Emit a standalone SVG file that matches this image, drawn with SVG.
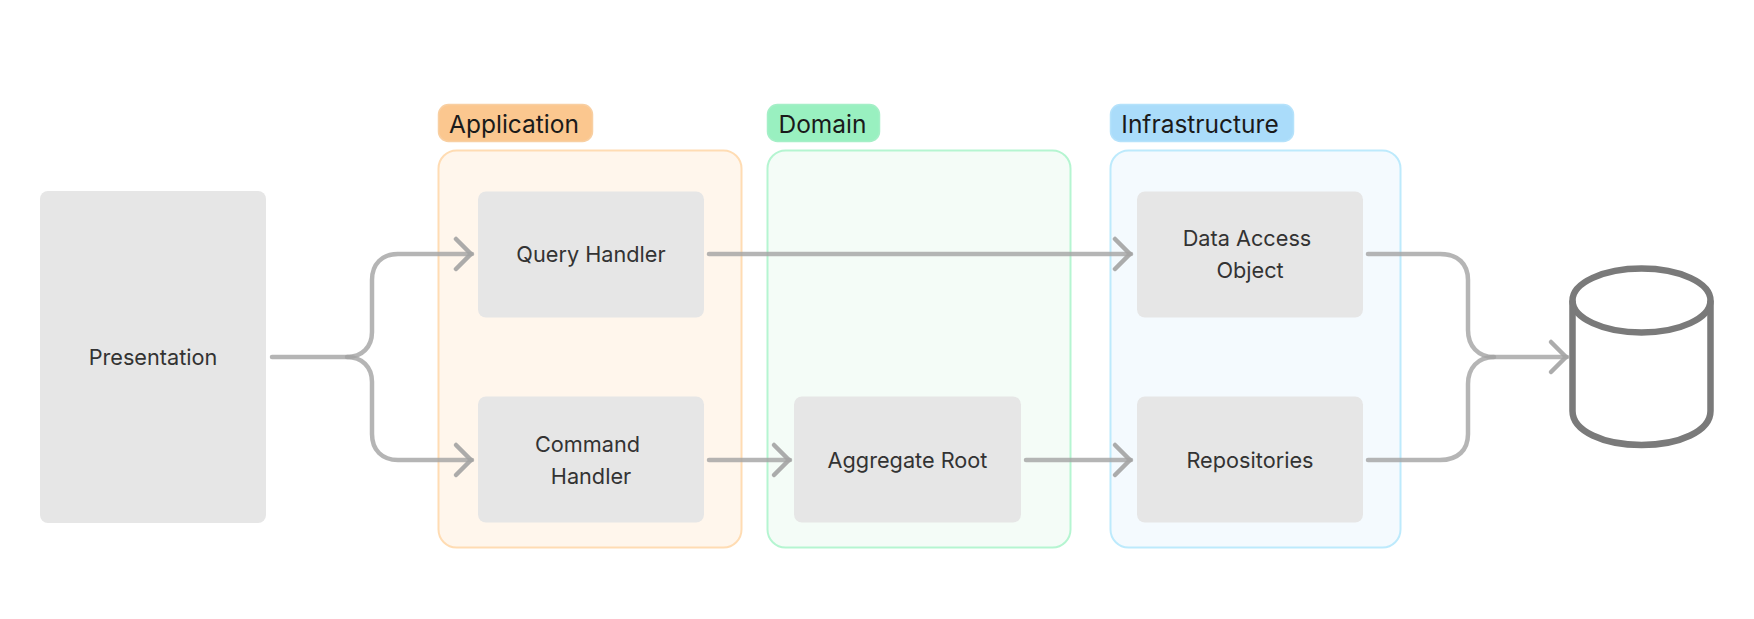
<svg xmlns="http://www.w3.org/2000/svg" width="1754" height="619" viewBox="0 0 1754 619">
<style>
.node{fill:#e6e6e6}
.t{font-family:Inter,"Liberation Sans",sans-serif;font-size:21.700px;fill:#333;text-anchor:middle}
.h{font-family:Inter,"Liberation Sans",sans-serif;font-size:24.500px;fill:#1a1a1a;text-anchor:middle}
.c{fill:none;stroke:#a3a3a3;stroke-opacity:.8;stroke-width:4.500;stroke-linecap:round;stroke-linejoin:round}
</style>
<defs>
<marker id="a" markerUnits="userSpaceOnUse" markerWidth="24" markerHeight="36" refX="19" refY="15" orient="auto" overflow="visible"><path d="M3 0L18 15L3 30" fill="none" stroke="#a3a3a3" stroke-opacity=".9" stroke-width="4.500" stroke-linecap="round" stroke-linejoin="round"/></marker>
</defs>
<rect width="1754" height="619" fill="#fff"/>
<g id="group-application"><rect x="438.500" y="150.500" width="303" height="397" rx="18" fill="#fff6ec" stroke="#ffdcb3" stroke-width="2"/><rect x="438.500" y="104.500" width="154" height="37" rx="10" fill="#fbc78f" stroke="#f8cfa2" stroke-width="1.500"/><text class="h" x="514" y="133">Application</text></g>
<g id="group-domain"><rect x="767.500" y="150.500" width="303" height="397" rx="18" fill="#f4fcf7" stroke="#b5f5d1" stroke-width="2"/><rect x="767.500" y="104.500" width="112" height="37" rx="10" fill="#99f0c0" stroke="#a5efc7" stroke-width="1.500"/><text class="h" x="822.500" y="133">Domain</text></g>
<g id="group-infrastructure"><rect x="1110.500" y="150.500" width="290" height="397" rx="18" fill="#f4fafe" stroke="#bdeafc" stroke-width="2"/><rect x="1110.500" y="104.500" width="183" height="37" rx="10" fill="#aadcfa" stroke="#b5e2fb" stroke-width="1.500"/><text class="h" x="1200" y="133">Infrastructure</text></g>
<g id="presentation"><rect class="node" x="40" y="191" width="226" height="332" rx="8"/><text class="t" x="153" y="365">Presentation</text></g>
<g id="query-handler"><rect class="node" x="478" y="191.500" width="226" height="126" rx="8"/><text class="t" x="591" y="262">Query Handler</text></g>
<g id="command-handler"><rect class="node" x="478" y="396.500" width="226" height="126" rx="8"/><text class="t" x="587.500" y="452">Command</text><text class="t" x="591" y="484">Handler</text></g>
<g id="aggregate-root"><rect class="node" x="794" y="396.500" width="227" height="126" rx="8"/><text class="t" x="907.500" y="468">Aggregate Root</text></g>
<g id="data-access-object"><rect class="node" x="1137" y="191.500" width="226" height="126" rx="8"/><text class="t" x="1247" y="246">Data Access</text><text class="t" x="1250" y="278">Object</text></g>
<g id="repositories"><rect class="node" x="1137" y="396.500" width="226" height="126" rx="8"/><text class="t" x="1250" y="468">Repositories</text></g>
<g id="database" fill="none" stroke="#7a7a7a" stroke-width="6.500"><ellipse cx="1641.500" cy="300.500" rx="69" ry="32"/><path d="M1572.500 300.500V411C1572.500 431 1603.500 445 1641.500 445S1710.500 431 1710.500 411V300.500"/></g>
<g id="connectors">
<path class="c" d="M272 357H347C362 357 372 347 372 332V280C372 264 382 254 398 254H472" marker-end="url(#a)"/>
<path class="c" d="M347 357C362 357 372 367 372 382V434C372 450 382 460 398 460H472" marker-end="url(#a)"/>
<path class="c" d="M709 254H1131" marker-end="url(#a)"/>
<path class="c" d="M709 460H790" marker-end="url(#a)"/>
<path class="c" d="M1026 460H1131" marker-end="url(#a)"/>
<path class="c" d="M1368 254H1440C1458 254 1468 264 1468 280V330C1468 346 1478 357 1494 357H1567" marker-end="url(#a)"/>
<path class="c" d="M1368 460H1440C1458 460 1468 450 1468 434V384C1468 368 1478 357 1494 357"/>
</g>
</svg>
